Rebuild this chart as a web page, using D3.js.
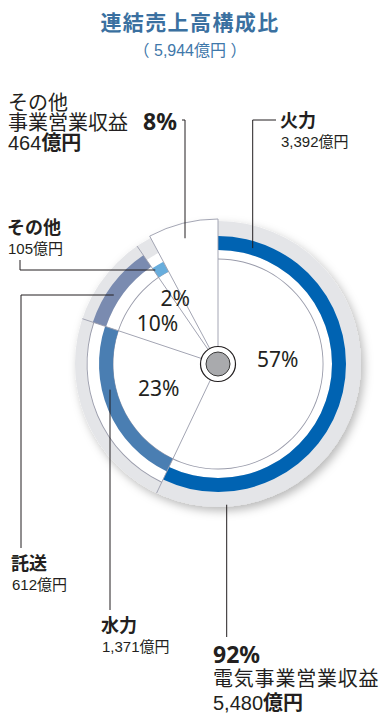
<!DOCTYPE html>
<html lang="ja">
<head>
<meta charset="utf-8">
<title>連結売上高構成比</title>
<script src="https://cdn.jsdelivr.net/npm/d3@7"></script>
<style>
  html, body { margin: 0; padding: 0; background: #ffffff; }
  svg { display: block; }
</style>
</head>
<body>
<svg id="chart" width="381" height="714"></svg>
<script>
// ---- data (億円) ----
const segmentNames  = ["火力", "水力", "託送", "その他", "その他事業営業収益"];
const segmentValues = [3392, 1371, 612, 105, 464];
// the first four segments make up 電気事業営業収益
const electricNames = ["火力", "水力", "託送", "その他"];
const titleText = "連結売上高構成比";
const electricGroupName = "電気事業営業収益";
const otherGroupLines = ["その他", "事業営業収益"];

// ---- styles ----
const bandStyle = {
  "火力":   { color: "#0063b2", band: [114, 128], white: 114 },
  "水力":   { color: "#4a7eb2", band: [105, 119], white: 131, rim: true },
  "託送":   { color: "#7a8bb0", band: [118, 132], white: 118 },
  "その他": { color: "#68addc", band: [105, 116], white: 126 }
};
const ink = "#231f20";
const divider = "#9a9cab";
const ringGray = "#e4e5e8";
const titleBlue = "#3a70a0";
const jpFont = "'Liberation Sans', 'Noto Sans CJK JP', sans-serif";
const pctFont = "'Noto Sans', 'Liberation Sans', sans-serif";

const svg = d3.select("#chart");
const cx = 218, cy = 364;
const rInner = 105, rDisk = 143, rWedge = 145, rHub = 17.5, rHubDot = 12;

const total = d3.sum(segmentValues);
const electricTotal = d3.sum(segmentValues.filter((v, i) => electricNames.includes(segmentNames[i])));
const fmt = d3.format(",");
const pct = v => Math.round(v / total * 100);

const pie = d3.pie().sort(null).value(d => d.value);
const arcs = pie(segmentNames.map((n, i) => ({ name: n, value: segmentValues[i] })));
const byName = Object.fromEntries(arcs.map(a => [a.data.name, a]));

// ---- shadow for the outer disk ----
const defs = svg.append("defs");
defs.append("filter").attr("id", "diskShadow")
  .attr("x", "-20%").attr("y", "-20%").attr("width", "140%").attr("height", "140%")
  .append("feDropShadow")
  .attr("dx", 3).attr("dy", 4).attr("stdDeviation", 5)
  .attr("flood-color", "#000").attr("flood-opacity", 0.28);

const g = svg.append("g").attr("transform", `translate(${cx},${cy})`);

// outer gray disk
g.append("circle").attr("r", rDisk).attr("fill", ringGray).attr("filter", "url(#diskShadow)");

const arc = d3.arc();
const electricArcs = arcs.filter(a => electricNames.includes(a.data.name));

// white body of each electric segment
g.selectAll("path.body").data(electricArcs).join("path")
  .attr("class", "body")
  .attr("fill", "#fff")
  .attr("d", a => arc({ innerRadius: 0, outerRadius: bandStyle[a.data.name].white,
                       startAngle: a.startAngle, endAngle: a.endAngle }));

// thin outline of the inner pie
const eStart = d3.min(electricArcs, a => a.startAngle);
const eEnd = d3.max(electricArcs, a => a.endAngle);
g.append("path").attr("fill", divider)
  .attr("d", arc({ innerRadius: rInner - 0.4, outerRadius: rInner + 0.5, startAngle: eStart, endAngle: eEnd }));

// rim line on segments whose white body reaches beyond the band
g.selectAll("path.rim").data(electricArcs.filter(a => bandStyle[a.data.name].rim)).join("path")
  .attr("class", "rim").attr("fill", divider)
  .attr("d", a => arc({ innerRadius: bandStyle[a.data.name].white - 0.5,
                       outerRadius: bandStyle[a.data.name].white + 0.4,
                       startAngle: a.startAngle, endAngle: a.endAngle }));

// colored bands
g.selectAll("path.band").data(electricArcs).join("path")
  .attr("class", "band")
  .attr("fill", a => bandStyle[a.data.name].color)
  .attr("d", a => arc({ innerRadius: bandStyle[a.data.name].band[0],
                       outerRadius: bandStyle[a.data.name].band[1],
                       startAngle: a.startAngle, endAngle: a.endAngle }));

// the その他事業 wedge, pulled out past the disk
const otherArc = byName["その他事業営業収益"];
g.append("path")
  .attr("fill", "#fff").attr("stroke", divider).attr("stroke-width", 0.9)
  .attr("d", arc({ innerRadius: 0, outerRadius: rWedge,
                   startAngle: otherArc.startAngle, endAngle: otherArc.endAngle }));

// radial dividers between segments
const polar = (ang, r) => [Math.sin(ang) * r, -Math.cos(ang) * r];
const boundaries = electricArcs.slice(1).map(a => a.startAngle);
g.selectAll("line.div").data(boundaries).join("line")
  .attr("class", "div")
  .attr("stroke", divider).attr("stroke-width", 0.9)
  .attr("x1", a => polar(a, rHub)[0]).attr("y1", a => polar(a, rHub)[1])
  .attr("x2", a => polar(a, rDisk)[0]).attr("y2", a => polar(a, rDisk)[1]);

// hub
g.append("circle").attr("r", rHub).attr("fill", "#fff").attr("stroke", ink).attr("stroke-width", 1.2);
g.append("circle").attr("r", rHubDot).attr("fill", "#a9aaad").attr("stroke", "#3a3a3a").attr("stroke-width", 1);

// percentage labels inside the pie
const pctLayout = {
  "火力":   { shift: -17, r: 60 },
  "水力":   { shift: 1,   r: 64 },
  "託送":   { shift: -3,  r: 73 },
  "その他": { shift: -2,  r: 78 }
};
g.selectAll("text.pct").data(electricArcs).join("text")
  .attr("class", "pct")
  .attr("font-family", pctFont).attr("font-size", 21).attr("fill", ink)
  .attr("text-anchor", "middle").attr("dy", "0.36em")
  .attr("transform", a => {
    const L = pctLayout[a.data.name];
    const mid = (a.startAngle + a.endAngle) / 2 + L.shift * Math.PI / 180;
    const [x, y] = polar(mid, L.r);
    return `translate(${x},${y})`;
  })
  .text(a => pct(a.data.value) + "%");

// ---- leader lines ----
const onCircleAtX = (x, r, below) => {
  const dx = x - cx;
  const dy = Math.sqrt(r * r - dx * dx);
  return cy + (below ? dy : -dy);
};
const onCircleAtY = (y, r) => {
  const dy = y - cy;
  return cx - Math.sqrt(r * r - dy * dy);
};
const mid = n => (bandStyle[n].band[0] + bandStyle[n].band[1]) / 2;

const leaders = [
  [[182, 120], [185, 120], [185, onCircleAtX(185, 130, false)]],
  [[276, 120], [252.7, 120], [252.7, onCircleAtX(252.7, mid("火力"), false)]],
  [[20, 260], [20, 270], [onCircleAtY(270, 113), 270]],
  [[21, 548], [21, 295], [onCircleAtY(295, mid("託送")), 295]],
  [[110, 610], [110, onCircleAtX(110, 111, true)]],
  [[226.7, 637], [226.7, onCircleAtX(226.7, rDisk - 2, true)]]
];
svg.selectAll("path.leader").data(leaders).join("path")
  .attr("class", "leader")
  .attr("fill", "none").attr("stroke", ink).attr("stroke-width", 1)
  .attr("d", d3.line());

// ---- titles ----
svg.append("text")
  .attr("x", 190).attr("y", 30).attr("text-anchor", "middle")
  .attr("font-family", "'Noto Sans CJK JP', sans-serif").attr("font-weight", "bold")
  .attr("font-size", 21).attr("letter-spacing", 1.4).attr("fill", titleBlue)
  .text(titleText);
svg.append("text")
  .attr("x", 190).attr("y", 56).attr("text-anchor", "middle")
  .attr("font-family", jpFont).attr("font-size", 16).attr("fill", "#3f78aa")
  .text(`（ ${fmt(total)}億円 ）`);

// ---- labels ----
function label(x, y, parts, size, extra) {
  const t = svg.append("text").attr("x", x).attr("y", y)
    .attr("font-family", jpFont).attr("font-size", size).attr("fill", ink);
  if (extra) extra(t);
  parts.forEach(p => {
    const s = t.append("tspan").text(p.text);
    if (p.bold) s.attr("font-weight", "bold");
    if (p.size) s.attr("font-size", p.size);
    if (p.font) s.attr("font-family", p.font);
    if (p.x != null) s.attr("x", p.x);
  });
  return t;
}
const name = n => byName[n];

// その他事業営業収益
const otherVal = name("その他事業営業収益").data.value;
label(8, 110, [{ text: otherGroupLines[0] }], 20);
label(8, 130, [{ text: otherGroupLines[1] },
               { text: pct(otherVal) + "%", bold: true, size: 23, font: pctFont, x: 143 }], 20);
label(8, 150, [{ text: fmt(otherVal) }, { text: "億円", bold: true }], 20);

// electric segments
const small = [
  { n: "火力",   x: 280, y: 127 },
  { n: "その他", x: 7,   y: 234 },
  { n: "託送",   x: 11,  y: 570 },
  { n: "水力",   x: 101, y: 632 }
];
small.forEach(s => {
  label(s.x, s.y, [{ text: s.n, bold: true }], 18);
  label(s.x + 1, s.y + 20, [{ text: fmt(name(s.n).data.value) + "億円" }], 15);
});

// 電気事業営業収益
label(213, 663, [{ text: pct(electricTotal) + "%", bold: true, font: pctFont }], 23);
label(213, 686, [{ text: electricGroupName }], 20, t => t.attr("letter-spacing", 0.8));
label(213, 710, [{ text: fmt(electricTotal) }, { text: "億円", bold: true }], 20);
</script>
</body>
</html>
